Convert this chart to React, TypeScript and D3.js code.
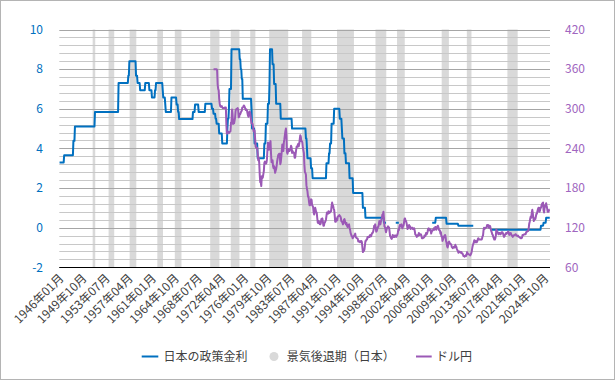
import React from "react";
import * as d3 from "d3";

// ---------- DATA ----------
const FIRST_MONTH = "1946-01";
const LAST_MONTH = "2025-08";

// Japanese policy rate: [month of change, new rate]; null = no numeric target
const RATE_CHANGES: [string, number | null][] = [
  ["1946-01", 3.29], ["1946-10", 3.65], ["1948-04", 4.38], ["1948-07", 5.11],
  ["1951-10", 5.84], ["1955-08", 7.3], ["1957-03", 7.67], ["1957-05", 8.4],
  ["1958-06", 7.67], ["1958-09", 7.3], ["1959-02", 6.94], ["1959-12", 7.3],
  ["1960-08", 6.94], ["1961-01", 6.57], ["1961-07", 6.94], ["1961-09", 7.3],
  ["1962-10", 6.94], ["1962-11", 6.57], ["1963-03", 6.21], ["1963-04", 5.84],
  ["1964-03", 6.57], ["1965-01", 6.21], ["1965-04", 5.84], ["1965-06", 5.48],
  ["1967-09", 5.84], ["1968-01", 6.21], ["1968-08", 5.84], ["1969-09", 6.25],
  ["1970-10", 6.0], ["1971-01", 5.75], ["1971-05", 5.5], ["1971-07", 5.25],
  ["1971-12", 4.75], ["1972-06", 4.25], ["1973-04", 5.0], ["1973-05", 5.5],
  ["1973-07", 6.0], ["1973-08", 7.0], ["1973-12", 9.0], ["1975-04", 8.5],
  ["1975-06", 8.0], ["1975-08", 7.5], ["1975-10", 6.5], ["1977-03", 6.0],
  ["1977-04", 5.0], ["1977-09", 4.25], ["1978-03", 3.5], ["1979-04", 4.25],
  ["1979-07", 5.25], ["1979-11", 6.25], ["1980-02", 7.25], ["1980-03", 9.0],
  ["1980-08", 8.25], ["1980-11", 7.25], ["1981-03", 6.25], ["1981-12", 5.5],
  ["1983-10", 5.0], ["1986-01", 4.5], ["1986-03", 4.0], ["1986-04", 3.5],
  ["1986-11", 3.0], ["1987-02", 2.5], ["1989-05", 3.25], ["1989-10", 3.75],
  ["1989-12", 4.25], ["1990-03", 5.25], ["1990-08", 6.0], ["1991-07", 5.5],
  ["1991-11", 5.0], ["1991-12", 4.5], ["1992-04", 3.75], ["1992-07", 3.25],
  ["1993-02", 2.5], ["1993-09", 1.75], ["1995-04", 1.0], ["1995-09", 0.5],
  ["1998-09", 0.25], ["1999-02", null], ["2000-08", 0.25], ["2001-03", null],
  ["2006-07", 0.25], ["2007-02", 0.5], ["2008-11", 0.2], ["2010-10", 0.1],
  ["2013-04", null], ["2016-02", -0.1], ["2024-03", 0.1], ["2024-08", 0.25],
  ["2025-01", 0.5],
];

// USD/JPY monthly, from 1971-01
const USDJPY_FIRST_MONTH = "1971-01";
const USDJPY: number[] = [
  360, 360, 360, 360, 360, 360, 360, 358, 337, 330, 328, 315,
  308, 304, 303, 303, 304, 302, 301, 301, 301, 301, 302, 302,
  302, 276, 262, 265, 264, 265, 263, 265, 265, 266, 279, 280,
  299, 292, 277, 280, 278, 282, 287, 297, 299, 300, 300, 301,
  298, 287, 288, 292, 292, 294, 296, 297, 302, 302, 303, 305,
  304, 302, 300, 298, 299, 298, 294, 290, 288, 293, 296, 295,
  290, 283, 278, 278, 277, 273, 266, 267, 267, 255, 243, 241,
  241, 241, 232, 222, 226, 218, 200, 189, 189, 183, 198, 195,
  196, 201, 206, 218, 220, 218, 217, 218, 223, 237, 249, 240,
  238, 244, 248, 251, 232, 219, 221, 222, 213, 210, 213, 209,
  203, 206, 209, 214, 221, 225, 230, 231, 232, 232, 216, 219,
  227, 237, 246, 242, 236, 249, 254, 260, 266, 270, 260, 235,
  232, 235, 239, 237, 236, 238, 240, 244, 242, 233, 236, 234,
  234, 233, 226, 226, 232, 238, 243, 242, 245, 247, 243, 247,
  254, 260, 258, 251, 251, 249, 241, 237, 233, 215, 204, 203,
  200, 184, 179, 175, 167, 167, 159, 154, 154, 156, 163, 162,
  154, 153, 151, 143, 140, 144, 150, 147, 143, 143, 135, 128,
  127, 130, 128, 125, 125, 127, 133, 133, 134, 129, 123, 123,
  127, 128, 130, 132, 138, 143, 141, 141, 145, 142, 143, 143,
  145, 145, 153, 158, 154, 153, 149, 147, 139, 129, 129, 134,
  134, 131, 137, 137, 138, 139, 138, 137, 135, 130, 129, 128,
  125, 127, 132, 133, 130, 127, 125, 127, 123, 121, 124, 124,
  125, 120, 117, 112, 110, 107, 107, 104, 105, 107, 108, 109,
  111, 106, 105, 104, 104, 103, 99, 100, 99, 98, 98, 100,
  100, 98, 90, 83, 85, 85, 87, 94, 100, 100, 102, 102,
  106, 105, 106, 107, 106, 109, 109, 107, 110, 112, 112, 114,
  118, 123, 122, 125, 119, 114, 115, 118, 121, 121, 125, 130,
  129, 125, 129, 132, 135, 140, 140, 144, 134, 122, 121, 117,
  113, 116, 120, 120, 122, 121, 120, 114, 107, 106, 104, 103,
  105, 109, 106, 106, 108, 106, 108, 108, 106, 108, 109, 112,
  117, 116, 121, 124, 122, 123, 125, 121, 119, 122, 123, 127,
  133, 134, 131, 130, 127, 123, 118, 119, 120, 124, 122, 122,
  118, 119, 119, 120, 118, 118, 119, 119, 115, 110, 109, 108,
  106, 107, 109, 108, 112, 109, 109, 110, 110, 108, 104, 104,
  104, 105, 105, 108, 107, 108, 112, 110, 111, 114, 118, 119,
  116, 118, 117, 117, 111, 114, 115, 116, 117, 119, 117, 117,
  121, 121, 117, 119, 121, 123, 121, 117, 116, 116, 111, 113,
  107, 107, 100, 102, 104, 107, 106, 109, 107, 100, 97, 92,
  90, 93, 98, 99, 97, 96, 95, 95, 91, 90, 89, 90,
  91, 90, 90, 94, 92, 91, 88, 86, 85, 82, 83, 84,
  83, 83, 82, 83, 81, 81, 79, 77, 77, 76, 77, 78,
  77, 79, 83, 81, 80, 80, 79, 79, 78, 79, 81, 84,
  89, 93, 95, 98, 101, 98, 100, 98, 99, 98, 100, 103,
  104, 102, 102, 102, 102, 102, 102, 103, 107, 108, 116, 120,
  118, 119, 120, 120, 121, 124, 123, 124, 120, 120, 123, 122,
  118, 115, 113, 110, 109, 106, 104, 102, 102, 104, 108, 117,
  115, 113, 113, 110, 112, 111, 112, 110, 111, 113, 113, 113,
  111, 108, 106, 107, 110, 110, 112, 111, 112, 113, 114, 113,
  109, 110, 111, 112, 110, 108, 108, 106, 108, 108, 109, 109,
  110, 110, 108, 108, 107, 108, 107, 106, 106, 105, 104, 104,
  104, 105, 109, 109, 109, 110, 110, 110, 110, 113, 114, 114,
  115, 115, 119, 126, 129, 134, 137, 135, 143, 147, 142, 135,
  130, 133, 134, 133, 137, 141, 141, 145, 148, 150, 150, 144,
  146, 150, 150, 154, 156, 157, 158, 146, 143, 150, 154, 154,
  157, 152, 149, 144, 144, 145, 147, 147,
];

// Japanese recessions (peak, trough)
const RECESSIONS: [string, string][] = [
  ["1951-06", "1951-10"], ["1954-01", "1954-11"], ["1957-06", "1958-06"],
  ["1961-12", "1962-10"], ["1964-10", "1965-10"], ["1970-07", "1971-12"],
  ["1973-11", "1975-03"], ["1977-01", "1977-10"], ["1980-02", "1983-02"],
  ["1985-06", "1986-11"], ["1991-02", "1993-10"], ["1997-05", "1999-01"],
  ["2000-11", "2002-01"], ["2008-02", "2009-03"], ["2012-03", "2012-11"],
  ["2018-10", "2020-05"],
];

const LEFT_TICKS = [-2, 0, 2, 4, 6, 8, 10];
const RIGHT_TICKS = [60, 120, 180, 240, 300, 360, 420];
const TICK_EVERY = 45;

const SERIES_NAMES = ["日本の政策金利", "景気後退期（日本）", "ドル円"];

// ---------- LAYOUT ----------
const W = 615, H = 380;
const PL = 59.3, PR = 550, PT = 29.5, PB = 267.3;
const BLUE = "#0070C0";
const PURPLE = "#9B59B6";
const FONT = "'Noto Sans CJK JP', 'Noto Sans', sans-serif";

function idx(s: string) {
  const [y, m] = s.split("-").map(Number);
  const [y0, m0] = FIRST_MONTH.split("-").map(Number);
  return (y - y0) * 12 + (m - m0);
}

const N = idx(LAST_MONTH) + 1;
const CATEGORIES = d3.range(N).map((i) => {
  const y0 = Number(FIRST_MONTH.slice(0, 4));
  return `${y0 + Math.floor(i / 12)}年${String((i % 12) + 1).padStart(2, "0")}月`;
});

const rateMonthly: (number | null)[] = [];
{
  let ci = 0;
  let cur: number | null = null;
  for (let i = 0; i < N; i++) {
    while (ci < RATE_CHANGES.length && idx(RATE_CHANGES[ci][0]) <= i) {
      cur = RATE_CHANGES[ci][1];
      ci++;
    }
    rateMonthly.push(cur);
  }
}
const fxStart = idx(USDJPY_FIRST_MONTH);

export default function App() {
  const x = d3.scaleBand<number>().domain(d3.range(N)).range([PL, PR]).padding(0);
  const bw = x.bandwidth();
  const cx = (i: number) => (x(i) as number) + bw / 2;
  const yL = d3.scaleLinear().domain([-2, 10]).range([PB, PT]);
  const yR = d3.scaleLinear().domain([60, 420]).range([PB, PT]);

  const rateLine = d3
    .line<number | null>()
    .defined((d) => d !== null)
    .x((_, i) => cx(i))
    .y((d) => yL(d as number));
  const fxLine = d3
    .line<number>()
    .x((_, i) => cx(fxStart + i))
    .y((d) => yR(d));

  const minor = d3.range(-2, 10.001, 0.4);
  const tickIdx = d3.range(0, N, TICK_EVERY);

  return (
    <div style={{ position: "fixed", left: 0, top: 0 }}>
      <svg width={W} height={H} style={{ display: "block", fontFamily: FONT }}>
        <rect x={0.5} y={0.5} width={W - 1} height={H - 1} fill="#fff" stroke="#B4B4B4" />
        {/* recessions */}
        {RECESSIONS.map(([a, b], k) => (
          <rect
            key={k}
            x={x(idx(a)) as number}
            width={(x(idx(b)) as number) + bw - (x(idx(a)) as number)}
            y={PT}
            height={PB - PT}
            fill="#D9D9D9"
          />
        ))}
        {/* gridlines */}
        {minor.map((v, k) => {
          const major = Math.abs(v / 2 - Math.round(v / 2)) < 1e-6;
          return (
            <line
              key={k}
              x1={PL}
              x2={PR}
              y1={Math.round(yL(v)) + 0.5}
              y2={Math.round(yL(v)) + 0.5}
              stroke={major ? "#A6A6A6" : "#C8C8C8"}
              strokeWidth={1}
            />
          );
        })}
        <line x1={PL} x2={PR} y1={Math.round(PB) + 0.5} y2={Math.round(PB) + 0.5} stroke="#000" />
        {/* series */}
        <path d={rateLine(rateMonthly) || ""} fill="none" stroke={BLUE} strokeWidth={2} strokeLinejoin="round" />
        <path d={fxLine(USDJPY) || ""} fill="none" stroke={PURPLE} strokeWidth={2} strokeLinejoin="round" />
        {/* left axis */}
        {LEFT_TICKS.map((v) => (
          <text key={v} x={43} y={yL(v)} dy="0.35em" textAnchor="end" fontSize={12} fill={BLUE}>
            {v}
          </text>
        ))}
        {/* right axis */}
        {RIGHT_TICKS.map((v) => (
          <text key={v} x={565} y={yR(v)} dy="0.35em" textAnchor="start" fontSize={12} fill="#A066C0">
            {v}
          </text>
        ))}
        {/* x labels */}
        {tickIdx.map((i) => {
          const tx = cx(i) + 2;
          const ty = 276;
          return (
            <text
              key={i}
              x={tx}
              y={ty}
              dy="0.35em"
              textAnchor="end"
              fontSize={12}
              fill="#404040"
              transform={`rotate(-45, ${tx}, ${ty})`}
            >
              {CATEGORIES[i]}
            </text>
          );
        })}
        {/* legend */}
        <g fontSize={12} fill="#404040">
          <line x1={141.7} x2={158.3} y1={356.5} y2={356.5} stroke={BLUE} strokeWidth={2} />
          <text x={163.5} y={356.5} dy="0.35em">{SERIES_NAMES[0]}</text>
          <circle cx={274} cy={356.5} r={4.5} fill="#D9D9D9" />
          <text x={286.7} y={356.5} dy="0.35em">{SERIES_NAMES[1]}</text>
          <line x1={416} x2={431.7} y1={356.5} y2={356.5} stroke={PURPLE} strokeWidth={2} />
          <text x={436} y={356.5} dy="0.35em">{SERIES_NAMES[2]}</text>
        </g>
      </svg>
    </div>
  );
}
